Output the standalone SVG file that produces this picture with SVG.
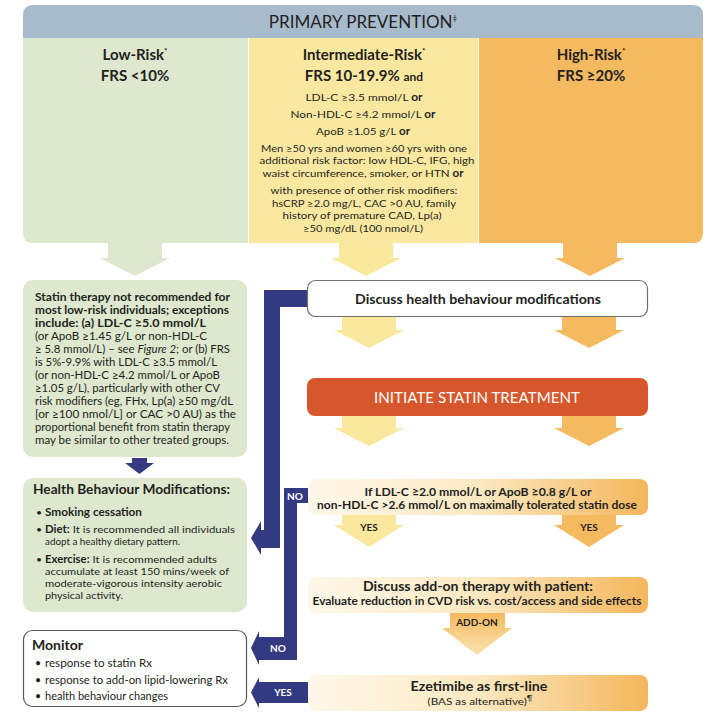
<svg xmlns="http://www.w3.org/2000/svg" width="712" height="726" viewBox="0 0 712 726">
<defs>
<style>
text{font-family:"Lato","Liberation Sans",sans-serif;fill:#231f20}
.b{font-weight:bold}
.c{text-anchor:middle}
.ttl{font-size:15px;font-weight:bold;text-anchor:middle}
.mid{font-size:10.4px;text-anchor:middle}
.gt{font-size:10.8px}
.ht{font-size:10.4px}
.mt{font-size:10.5px}
.bl{fill:#333a82}
.wt{fill:#ffffff;font-weight:bold;font-size:10px;text-anchor:middle}
.lbl{font-size:10px;font-weight:bold;text-anchor:middle}
.grn{fill:#dde8cf}
</style>
<linearGradient id="gb" x1="0" y1="0" x2="1" y2="0">
<stop offset="0" stop-color="#fef8ea"/>
<stop offset="0.5" stop-color="#fce9c2"/>
<stop offset="1" stop-color="#f4b65c"/>
</linearGradient>
<linearGradient id="ga" x1="0" y1="0" x2="0" y2="1">
<stop offset="0" stop-color="#f5b960"/>
<stop offset="1" stop-color="#fbe3b0"/>
</linearGradient>
</defs>
<rect width="712" height="726" fill="#ffffff"/>

<g id="header">
<path d="M23 38 V15 Q23 5 33 5 H693 Q703 5 703 15 V38 Z" fill="#a8bbcc"/>
<text x="363" y="28" class="c" font-size="17px">PRIMARY PREVENTION<tspan font-size="8px" dy="-7">‡</tspan></text>
</g>

<g id="low-risk">
<path d="M23 38 H248 V243 H33 Q23 243 23 233 Z" class="grn"/>
<text x="135" y="60" class="ttl">Low-Risk<tspan font-size="8px" dy="-6">*</tspan></text>
<text x="135" y="81" class="ttl">FRS &lt;10%</text>
</g>

<g id="intermediate-risk">
<rect x="249" y="38" width="229" height="205" fill="#fbe8a0"/>
<text x="364" y="60" class="ttl">Intermediate-Risk<tspan font-size="8px" dy="-6">*</tspan></text>
<text x="364" y="81" class="ttl">FRS 10-19.9% <tspan font-size="12px">and</tspan></text>
<text x="364" y="101" class="mid" textLength="117" lengthAdjust="spacingAndGlyphs">LDL-C ≥3.5 mmol/L <tspan class="b">or</tspan></text>
<text x="363" y="118" class="mid" textLength="145" lengthAdjust="spacingAndGlyphs">Non-HDL-C ≥4.2 mmol/L <tspan class="b">or</tspan></text>
<text x="363" y="135" class="mid" textLength="94" lengthAdjust="spacingAndGlyphs">ApoB ≥1.05 g/L <tspan class="b">or</tspan></text>
<text x="364" y="152" class="mid" textLength="206" lengthAdjust="spacingAndGlyphs">Men ≥50 yrs and women ≥60 yrs with one</text>
<text x="367" y="164" class="mid" textLength="215" lengthAdjust="spacingAndGlyphs">additional risk factor: low HDL-C, IFG, high</text>
<text x="363" y="177" class="mid" textLength="201" lengthAdjust="spacingAndGlyphs">waist circumference, smoker, or HTN <tspan class="b">or</tspan></text>
<text x="364" y="194" class="mid" textLength="187" lengthAdjust="spacingAndGlyphs">with presence of other risk modifiers:</text>
<text x="364" y="207" class="mid" textLength="184" lengthAdjust="spacingAndGlyphs">hsCRP ≥2.0 mg/L, CAC &gt;0 AU, family</text>
<text x="362" y="219" class="mid" textLength="159" lengthAdjust="spacingAndGlyphs">history of premature CAD, Lp(a)</text>
<text x="363" y="232" class="mid" textLength="120" lengthAdjust="spacingAndGlyphs">≥50 mg/dL (100 nmol/L)</text>
</g>

<g id="high-risk">
<path d="M479 38 H703 V233 Q703 243 693 243 H479 Z" fill="#f5b960"/>
<text x="591" y="60" class="ttl">High-Risk<tspan font-size="8px" dy="-6">*</tspan></text>
<text x="591" y="81" class="ttl">FRS ≥20%</text>
</g>

<g id="low-risk-statin">
<rect x="23" y="280" width="224" height="177" rx="10" class="grn"/>
<text class="gt b" x="35" y="301" textLength="195" lengthAdjust="spacingAndGlyphs">Statin therapy not recommended for</text>
<text class="gt b" x="35" y="314" textLength="194" lengthAdjust="spacingAndGlyphs">most low-risk individuals; exceptions</text>
<text class="gt b" x="35" y="327" textLength="171" lengthAdjust="spacingAndGlyphs">include: (a) LDL-C ≥5.0 mmol/L</text>
<text class="gt" x="35" y="340" textLength="172" lengthAdjust="spacingAndGlyphs">(or ApoB ≥1.45 g/L or non-HDL-C</text>
<text class="gt" x="35" y="353" textLength="195" lengthAdjust="spacingAndGlyphs">≥ 5.8 mmol/L) – see <tspan font-style="italic">Figure 2</tspan>; or (b) FRS</text>
<text class="gt" x="35" y="366" textLength="182" lengthAdjust="spacingAndGlyphs">is 5%-9.9% with LDL-C ≥3.5 mmol/L</text>
<text class="gt" x="35" y="379" textLength="185" lengthAdjust="spacingAndGlyphs">(or non-HDL-C ≥4.2 mmol/L or ApoB</text>
<text class="gt" x="35" y="392" textLength="185" lengthAdjust="spacingAndGlyphs">≥1.05 g/L), particularly with other CV</text>
<text class="gt" x="35" y="405" textLength="198" lengthAdjust="spacingAndGlyphs">risk modifiers (eg, FHx, Lp(a) ≥50 mg/dL</text>
<text class="gt" x="35" y="418" textLength="201" lengthAdjust="spacingAndGlyphs">[or ≥100 nmol/L] or CAC &gt;0 AU) as the</text>
<text class="gt" x="35" y="431" textLength="195" lengthAdjust="spacingAndGlyphs">proportional benefit from statin therapy</text>
<text class="gt" x="35" y="444" textLength="194" lengthAdjust="spacingAndGlyphs">may be similar to other treated groups.</text>
</g>

<g id="health-behaviour">
<rect x="23" y="478" width="224" height="134" rx="10" class="grn"/>
<text x="33" y="494" class="b" font-size="14px" textLength="197" lengthAdjust="spacingAndGlyphs">Health Behaviour Modifications:</text>
<text class="ht" x="36" y="516">•</text><text class="ht b" x="45" y="516" textLength="97" lengthAdjust="spacingAndGlyphs">Smoking cessation</text>
<text class="ht" x="36" y="533">•</text><text class="ht" x="45" y="533" textLength="190" lengthAdjust="spacingAndGlyphs"><tspan class="b">Diet:</tspan> It is recommended all individuals</text>
<text class="ht" x="45" y="545" textLength="135" lengthAdjust="spacingAndGlyphs">adopt a healthy dietary pattern.</text>
<text class="ht" x="36" y="563">•</text><text class="ht" x="45" y="563" textLength="172" lengthAdjust="spacingAndGlyphs"><tspan class="b">Exercise:</tspan> It is recommended adults</text>
<text class="ht" x="45" y="575" textLength="184" lengthAdjust="spacingAndGlyphs">accumulate at least 150 mins/week of</text>
<text class="ht" x="45" y="587" textLength="177" lengthAdjust="spacingAndGlyphs">moderate-vigorous intensity aerobic</text>
<text class="ht" x="45" y="599" textLength="78" lengthAdjust="spacingAndGlyphs">physical activity.</text>
</g>

<g id="monitor">
<rect x="23.5" y="630.5" width="223" height="76" rx="9" fill="#ffffff" stroke="#58595b" stroke-width="1.2"/>
<text x="32" y="650" class="b" font-size="14px">Monitor</text>
<text x="35" y="667" class="mt">•</text><text x="45" y="667" class="mt" textLength="107" lengthAdjust="spacingAndGlyphs">response to statin Rx</text>
<text x="35" y="684" class="mt">•</text><text x="45" y="684" class="mt" textLength="183" lengthAdjust="spacingAndGlyphs">response to add-on lipid-lowering Rx</text>
<text x="35" y="700" class="mt">•</text><text x="45" y="700" class="mt" textLength="123" lengthAdjust="spacingAndGlyphs">health behaviour changes</text>
</g>

<g id="connectors">
<polygon points="108,243 162,243 162,258 170,258 135,276 100,258 108,258" fill="#dde8cf"/>
<polygon points="339,243 393,243 393,258 401,258 366,276 331,258 339,258" fill="#fae89f"/>
<polygon points="563,243 617,243 617,258 625,258 590,276 555,258 563,258" fill="#f5b960"/>
<polygon points="342,317 396,317 396,330 404,330 369,348 334,330 342,330" fill="#fae89f"/>
<polygon points="562,317 616,317 616,330 624,330 589,348 554,330 562,330" fill="#f5b960"/>
<polygon points="342,416 396,416 396,428 404,428 369,446 334,428 342,428" fill="#fae89f"/>
<polygon points="562,416 616,416 616,428 624,428 589,446 554,428 562,428" fill="#f5b960"/>
<polygon points="342,515 396,515 396,525 404,525 369,547 334,525 342,525" fill="#fae89f"/>
<polygon points="562,515 616,515 616,525 624,525 589,547 554,525 562,525" fill="#f5b960"/>
<polygon points="450,613 505,613 505,628 512,628 477,655 442,628 450,628" fill="url(#ga)"/>
<text x="369" y="531" class="lbl">YES</text>
<text x="589" y="531" class="lbl">YES</text>
<text x="477" y="626" class="lbl">ADD-ON</text>
<polygon points="132,458 147,458 147,463 154,463 139.5,474 125,463 132,463" class="bl"/>
<path d="M264 290 H310 V307 H280 V548 H261 V555 L251 538 L261 521 V530 H264 Z" class="bl"/>
<path d="M284 488 H310 V503 H297 V660 H259 V665 L251 648 L259 631 V637 H284 Z" class="bl"/>
<text x="295" y="500" class="wt">NO</text>
<text x="278" y="652" class="wt">NO</text>
<path d="M310 682 V703 H259 V708 L251 692.5 L259 677 V682 Z" class="bl"/>
<text x="283" y="696" class="wt">YES</text>
</g>

<g id="discuss-health">
<rect x="307.5" y="280.5" width="340" height="36" rx="8" fill="#ffffff" stroke="#6d6e70" stroke-width="1.2"/>
<text x="478" y="304" class="c b" font-size="14px" textLength="246" lengthAdjust="spacingAndGlyphs">Discuss health behaviour modifications</text>
</g>

<g id="initiate-statin">
<rect x="307" y="378" width="341" height="38" rx="8" fill="#d6572b"/>
<text x="477" y="403" class="c" font-size="15px" style="fill:#ffffff" textLength="206" lengthAdjust="spacingAndGlyphs">INITIATE STATIN TREATMENT</text>
</g>

<g id="ldl-check">
<rect x="308" y="479" width="340" height="36" rx="8" fill="url(#gb)"/>
<text x="478" y="496" class="c b" font-size="10.8px" textLength="227" lengthAdjust="spacingAndGlyphs">If LDL-C ≥2.0 mmol/L or ApoB ≥0.8 g/L or</text>
<text x="477" y="508.5" class="c b" font-size="10.8px" textLength="320" lengthAdjust="spacingAndGlyphs">non-HDL-C &gt;2.6 mmol/L on maximally tolerated statin dose</text>
</g>

<g id="add-on">
<rect x="308" y="577" width="340" height="36" rx="8" fill="url(#gb)"/>
<text x="478" y="591" class="c b" font-size="13px" textLength="230" lengthAdjust="spacingAndGlyphs">Discuss add-on therapy with patient:</text>
<text x="477" y="605" class="c b" font-size="10.5px" textLength="329" lengthAdjust="spacingAndGlyphs">Evaluate reduction in CVD risk vs. cost/access and side effects</text>
</g>

<g id="ezetimibe">
<rect x="308" y="675" width="340" height="36" rx="8" fill="url(#gb)"/>
<text x="479" y="691" class="c b" font-size="13.5px" textLength="137" lengthAdjust="spacingAndGlyphs">Ezetimibe as first-line</text>
<text x="480" y="705" class="c" font-size="10.2px" textLength="105" lengthAdjust="spacingAndGlyphs">(BAS as alternative)<tspan font-size="7px" dy="-4">¶</tspan></text>
</g>
</svg>
